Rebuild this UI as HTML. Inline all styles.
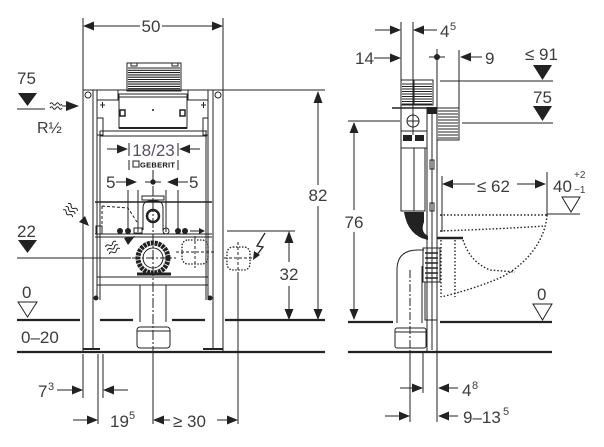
<!DOCTYPE html>
<html><head><meta charset="utf-8"><style>
html,body{margin:0;padding:0;background:#fff;}
svg{display:block}
text{font-family:"Liberation Sans",Arial,sans-serif;fill:#3c3c3c;font-size:17px;}
.s{font-size:11px;}
</style></head><body>
<svg width="604" height="447" viewBox="0 0 604 447" xmlns="http://www.w3.org/2000/svg">
<rect width="604" height="447" fill="#fff"/>
<g stroke="#222" stroke-width="1" fill="none">
<!-- ===== LEFT DRAWING ===== -->
<!-- 50 dim -->
<path d="M83,18V92 M223,18V92 M84,26H140 M162,26H222"/>
<!-- top grill -->
<rect x="127" y="63" width="54" height="28"/>
<path d="M128,68H180 M128,70.3H180 M128,72.6H180 M128,74.9H180 M128,77.2H180 M128,79.5H180 M128,81.8H180 M128,84.1H180 M128,86.4H180 M128,88.7H180" stroke-width="1.1"/>
<path d="M131,63v3h6v-3 M172,63v3h6v-3"/>
<!-- frame -->
<path d="M83,90H325"/>
<path d="M83,90V352 M93,90V350 M97,90V300 M100,131V300"/>
<path d="M223,90V352 M213,90V350 M208,90V300 M206,131V300"/>
<path d="M83,349H100 M203,349H223" stroke-width="2"/>
<circle cx="88" cy="95" r="3"/>
<circle cx="218" cy="95" r="3"/>
<rect x="97" y="90" width="21" height="10"/>
<rect x="188" y="90" width="20" height="10"/>
<rect x="119" y="94" width="68" height="34"/>
<path d="M119,97H187"/>
<rect x="120" y="110" width="5" height="6" stroke-width="1.5"/>
<rect x="180" y="110" width="5" height="6" stroke-width="1.5"/>
<path d="M119,128H187" stroke-width="2"/>
<path d="M100,131H207 M100,136H207"/>
<rect x="97" y="118" width="6" height="17"/>
<rect x="203" y="118" width="5" height="17"/>
<path d="M100,105h5 M102.5,102v6 M201,105h5 M203.5,102v6"/>
<!-- 18/23 dim -->
<path d="M107,149H118 M190,149H200 M129,143V156 M129,160V170 M178,143V156 M178,160V170"/>
<rect x="133" y="161" width="6" height="6"/>
<!-- 5 dims -->
<path d="M116,182H127 M145,182H161 M178,182H188"/>
<path d="M128,190V232 M138,190V232 M166,190V232 M178,190V232"/>
<path d="M153,170V352" stroke-dasharray="10 2 2 2"/>
<!-- lower section -->
<path d="M95,202H212" stroke-width="1.5"/>
<path d="M102,206V232 M102,206L128,208L137,222" stroke-dasharray="3 2"/>
<path d="M143,230V208Q143,201 150,201H156Q163,201 163,208V230"/>
<rect x="142" y="196" width="22" height="4"/>
<circle cx="153" cy="216" r="6" stroke-width="2.5"/>
<circle cx="166" cy="231" r="3"/>
<rect x="134" y="228" width="8" height="5"/>
<path d="M190,231H201"/>
<path d="M95,234H212 M95,237H212"/>
<rect x="96" y="226" width="6" height="8"/>
<path d="M97,277H208 M97,285H208"/>
<!-- pipe -->
<circle cx="153" cy="258" r="15" stroke-width="5" stroke-dasharray="3 0.8"/>
<circle cx="153" cy="258" r="10"/>
<path d="M137,274H171" stroke-width="3"/>
<path d="M17,258H131"/>
<path d="M132,258H176" stroke-dasharray="8 2 2 2"/>
<!-- inner socket -->
<rect x="182" y="240" width="26" height="24" rx="6" stroke-dasharray="1.5 1.5" stroke-width="1.3"/>
<path d="M176,252H214 M195,236V268" stroke-dasharray="3 2"/>
<!-- outer socket -->
<rect x="227" y="247" width="23" height="23" rx="6" stroke-dasharray="1.5 1.5" stroke-width="1.3"/>
<path d="M224,258H252 M238,242V272" stroke-dasharray="3 2"/>
<path d="M238,272V424"/>
<!-- lightning -->
<path d="M265,233L257,246L263,247L256,256" stroke-width="1.3"/>
<!-- 32 dim -->
<path d="M227,231H295 M289,243V262 M289,286V310"/>
<!-- 82 dim -->
<path d="M318,102V185 M318,206V310"/>
<!-- 75 left -->
<path d="M17,109H45"/>
<path d="M50,104q1.5,-2.5 3,0t3,0t3,0t3,0 M50,108q1.5,-2.5 3,0t3,0t3,0t3,0"/>
<path d="M62,106H68"/>
<!-- 22 -->
<!-- 0 left -->
<polygon points="18,302 37,302 27.5,317"/>
<!-- floor lines left -->
<path d="M17,320H80 M100,320H133 M172,320H205 M225,320H325" stroke-width="2.2"/>
<path d="M17,352H325" stroke-width="2.2"/>
<!-- drain -->
<path d="M140,285V322 M166,285V322"/>
<rect x="137" y="327" width="33" height="21" rx="3"/>
<path d="M137,331H170"/>
<!-- bottom dims left -->
<path d="M83,354V398 M98,354V424 M103,354V398 M153,352V424"/>
<path d="M57,390H72 M114,390H128 M73,420H87 M164,420H170 M217,420H227"/>
<!-- wavy arrows -->
<g transform="translate(75,214) rotate(38)">
<path d="M-12,-4q2,-2.5 4,0t4,0t4,0 M-12,0q2,-2.5 4,0t4,0t4,0 M-12,4q2,-2.5 4,0t4,0t4,0"/>
</g>
<g transform="translate(118,245) rotate(-28)">
<path d="M-12,-4q2,-2.5 4,0t4,0t4,0 M-12,0q2,-2.5 4,0t4,0t4,0 M-12,4q2,-2.5 4,0t4,0t4,0"/>
</g>

<!-- ===== RIGHT DRAWING ===== -->
<path d="M401,22V148 M413,22V135"/>
<path d="M375,30H390 M424,30H437 M374,58H390 M429,57H445 M437,49V108 M459,50V108 M471,57H482"/>
<path d="M440,81H553 M462,123H553"/>
<path d="M348,121H400 M354,133V210 M354,232V309"/>
<!-- grill -->
<rect x="401" y="80" width="32" height="25"/>
<path d="M402,84H432 M402,86.5H432 M402,89H432 M402,91.5H432 M402,94H432 M402,96.5H432 M402,99H432 M402,101.5H432 M402,104H432" stroke-width="1.1"/>
<path d="M414,80V105"/>
<path d="M392,108H428" stroke-width="1.5"/>
<rect x="401" y="108" width="26" height="40"/>
<circle cx="413" cy="121" r="6"/>
<path d="M407,121H419 M401,131H427"/>
<path d="M427,107V352 M432,114V350 M437,105V422"/>
<!-- ribbed box -->
<rect x="437" y="108" width="22" height="32"/>
<path d="M438,111H458 M438,114H458 M438,117H458 M438,120H458 M438,123H458 M438,126H458 M438,129H458 M438,132H458 M438,135H458 M438,138H458" stroke-width="1"/>
<!-- cistern -->
<rect x="401" y="148" width="24" height="63"/>
<path d="M414,148V211"/>
<rect x="430" y="160" width="4" height="9"/>
<rect x="430" y="203" width="4" height="8"/>
<path d="M437,238H463" stroke-width="2.5"/>
<!-- <=62 -->
<path d="M442,176V232 M547,172V216 M453,184H475 M517,184H535"/>
<polygon points="562,197 580,197 571,212"/>
<path d="M547,214H580"/>
<!-- WC dotted -->
<g stroke-dasharray="1.5 2" stroke-width="1.4">
<path d="M440,215H547"/>
<path d="M440,231Q500,229 545,226"/>
<path d="M547,215C545,245 520,270 495,280Q470,290 441,297"/>
<path d="M463,240Q470,262 490,270L515,272"/>
<path d="M441,240V297 M455,240V297"/>
</g>
<!-- pipe bend -->
<path d="M397,323V270Q397,250 418,250H424"/>
<path d="M422,323V266"/>
<path d="M410,270V352" stroke-dasharray="8 2 2 2"/>
<rect x="423" y="248" width="17" height="34"/>
<path d="M425,253h13 M425,258h13 M425,263h13 M425,268h13 M425,273h13 M425,278h13" stroke-width="1.6"/>
<rect x="425" y="282" width="12" height="38"/>
<rect x="395" y="328" width="31" height="20" rx="2"/>
<path d="M395,332H426"/>
<!-- floor right -->
<path d="M348,322H393 M440,322H552" stroke-width="2.2"/>
<path d="M348,352H552" stroke-width="2.2"/>
<polygon points="533,304 552,304 542.5,320"/>
<path d="M410,352V422 M423,352V393"/>
<path d="M400,388H412 M449,388H458 M385,416H399 M449,416H458"/>
</g>

<!-- filled shapes -->
<g fill="#222" stroke="none">
<polygon points="83,26 94,21.5 94,30.5"/>
<polygon points="223,26 212,21.5 212,30.5"/>
<polygon points="128,149 117,144.5 117,153.5"/>
<polygon points="179,149 190,144.5 190,153.5"/>
<polygon points="137,182 126,177.5 126,186.5"/>
<polygon points="167,182 178,177.5 178,186.5"/>
<circle cx="153" cy="182" r="2.7"/>
<circle cx="153" cy="110" r="1"/>
<circle cx="120" cy="231" r="3"/>
<circle cx="128" cy="231" r="3"/>
<circle cx="178" cy="231" r="3"/>
<circle cx="185" cy="231" r="3"/>
<polygon points="205,231 199,228 199,234"/>
<circle cx="96" cy="298" r="2.5"/>
<circle cx="210" cy="298" r="2.5"/>
<polygon points="253,260 254,251 260,255"/>
<polygon points="289,231 284.5,243 293.5,243"/>
<polygon points="289,320 284.5,309 293.5,309"/>
<polygon points="318,91 313.5,103 322.5,103"/>
<polygon points="318,320 313.5,309 322.5,309"/>
<polygon points="18,93 37,93 27.5,106"/>
<polygon points="79,106 66,101 66,111"/>
<polygon points="18,240 37,240 27.5,253"/>
<polygon points="83,390 72,385.5 72,394.5"/>
<polygon points="103,390 114,385.5 114,394.5"/>
<polygon points="98,420 87,415.5 87,424.5"/>
<polygon points="153,420 164,415.5 164,424.5"/>
<polygon points="238,420 227,415.5 227,424.5"/>
<!-- wavy arrow heads -->
<polygon points="89,226 79,222 85,216"/>
<polygon points="135,236 128,245 124,238"/>
<!-- right -->
<polygon points="401,30 390,25.5 390,34.5"/>
<polygon points="413,30 424,25.5 424,34.5"/>
<polygon points="401,58 390,53.5 390,62.5"/>
<circle cx="437" cy="57" r="3"/>
<polygon points="460,57 471,52.5 471,61.5"/>
<polygon points="533,65 552,65 542.5,80"/>
<polygon points="533,106 552,106 542.5,121"/>
<polygon points="354,122 349.5,133 358.5,133"/>
<polygon points="354,320 349.5,309 358.5,309"/>
<rect x="427" y="107" width="10" height="7"/>
<rect x="403" y="135" width="9" height="6"/>
<rect x="415" y="135" width="9" height="6"/>
<path d="M404,212H424V222Q420,232 428,236L428,240Q408,236 404,212Z"/>
<polygon points="442,184 453,179.5 453,188.5"/>
<polygon points="546,184 535,179.5 535,188.5"/>
<polygon points="423,388 412,383.5 412,392.5"/>
<polygon points="438,388 449,383.5 449,392.5"/>
<polygon points="410,416 399,411.5 399,420.5"/>
<polygon points="438,416 449,411.5 449,420.5"/>
</g>

<!-- TEXT -->
<text x="151" y="32" text-anchor="middle">50</text>
<text x="17" y="84">75</text>
<text x="37" y="133" style="font-size:16px">R½</text>
<text x="153.5" y="156" text-anchor="middle" style="fill:#5a4f66">18/23</text>
<text x="140" y="167.5" style="font-size:7.5px;font-weight:bold;fill:#111" textLength="35">GEBERIT</text>
<text x="106" y="188">5</text>
<text x="189" y="188">5</text>
<text x="17" y="237">22</text>
<text x="318" y="201" text-anchor="middle">82</text>
<text x="289" y="280" text-anchor="middle">32</text>
<text x="22" y="298">0</text>
<text x="21" y="343">0–20</text>
<text x="38" y="397">7</text><text x="48" y="390" class="s">3</text>
<text x="110" y="427">19</text><text x="129" y="419" class="s">5</text>
<text x="173" y="427">≥ 30</text>

<text x="440" y="37">4</text><text x="450" y="30" class="s">5</text>
<text x="355" y="64">14</text>
<text x="485" y="64">9</text>
<text x="525" y="60">≤ 91</text>
<text x="533" y="103">75</text>
<text x="354" y="228" text-anchor="middle">76</text>
<text x="477" y="192">≤ 62</text>
<text x="553" y="192">40</text>
<text x="574" y="178" style="font-size:10px">+2</text>
<text x="574" y="193" style="font-size:10px">−1</text>
<text x="537" y="300">0</text>
<text x="462" y="396">4</text><text x="472" y="389" class="s">8</text>
<text x="463" y="423">9–13</text><text x="503" y="415" class="s">5</text>
</svg>
</body></html>
